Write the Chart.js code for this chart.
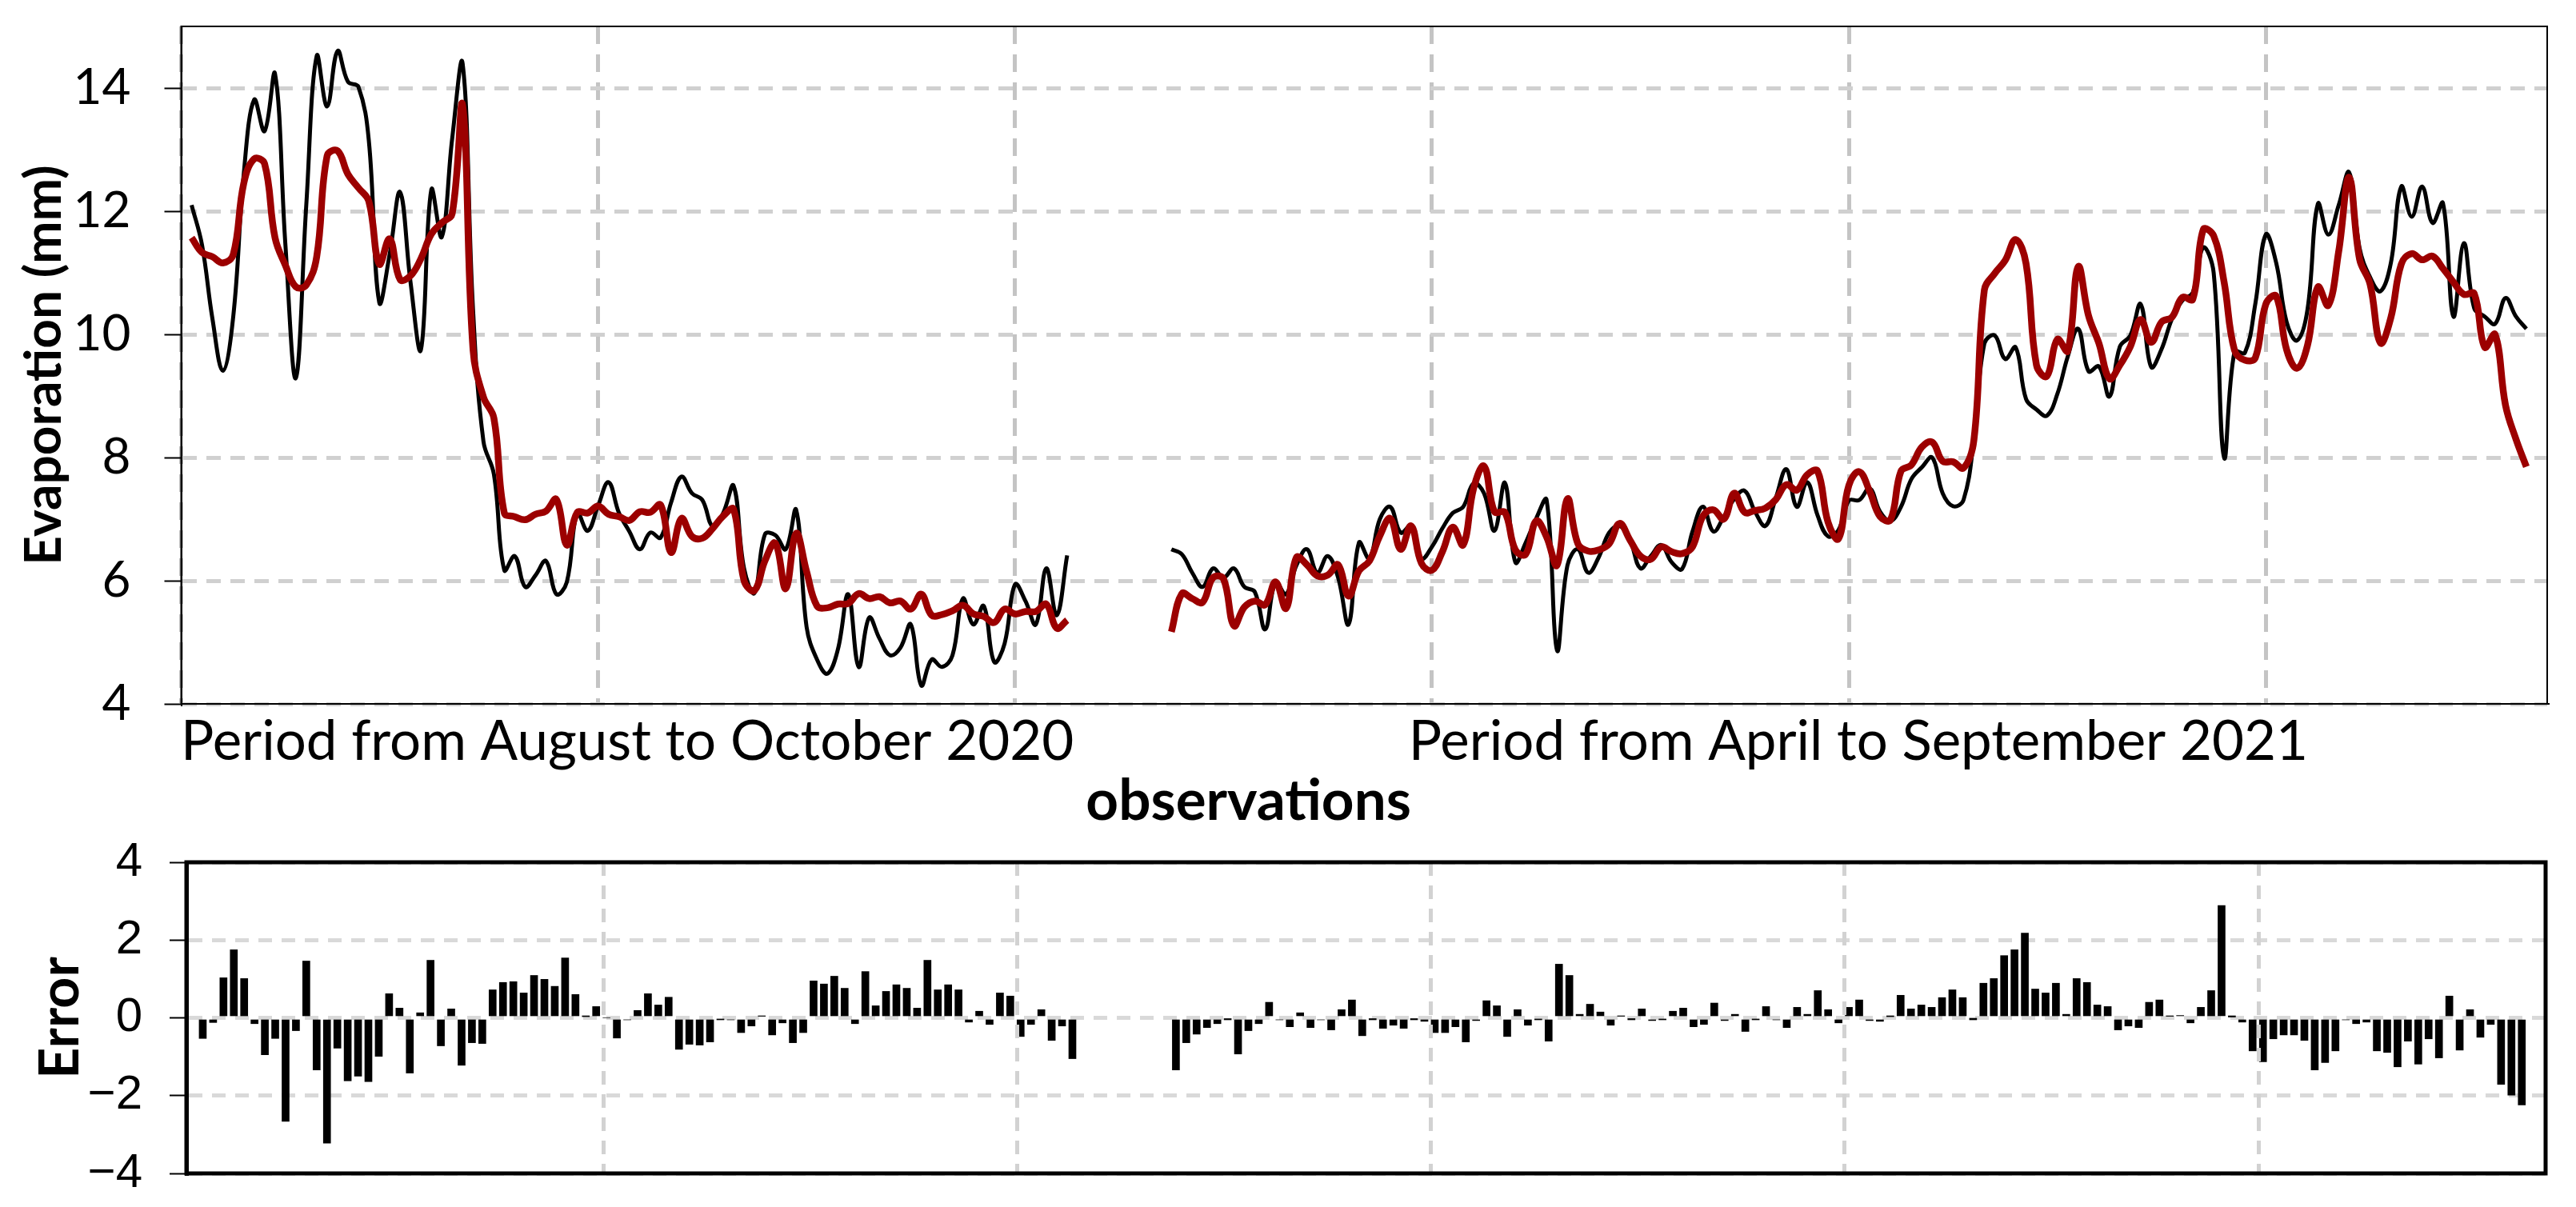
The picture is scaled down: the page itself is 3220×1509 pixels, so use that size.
<!DOCTYPE html>
<html>
<head>
<meta charset="utf-8">
<script src="https://cdn.jsdelivr.net/npm/chart.js@4.4.1/dist/chart.umd.min.js"></script>
<style>
  html, body { margin: 0; padding: 0; background: #fff; }
  #topBox { position: absolute; left: 0; top: 0; width: 3220px; height: 1041px; }
  #bottomBox { position: absolute; left: 0; top: 1041px; width: 3220px; height: 468px; }
</style>
</head>
<body>
<div id="topBox"><canvas id="evapChart"></canvas></div>
<div id="bottomBox"><canvas id="errorChart"></canvas></div>
<script>
// observations 1..225, gap 86-94 between the two periods
const observed = [
  12.10, 11.45, 10.25, 9.41, 10.30, 12.60, 13.81, 13.30, 14.23, 11.45,
  9.29, 12.10, 14.52, 13.70, 14.60, 14.10, 14.02, 13.15, 10.52, 11.30,
  12.31, 10.85, 9.75, 12.35, 11.58, 13.18, 14.40, 10.40, 8.26, 7.73,
  6.17, 6.40, 5.90, 6.09, 6.32, 5.78, 5.98, 7.10, 6.81, 7.22,
  7.60, 7.10, 6.80, 6.51, 6.78, 6.70, 7.27, 7.69, 7.42, 7.31,
  6.88, 7.10, 7.54, 6.20, 5.80, 6.75, 6.74, 6.51, 7.15, 5.25,
  4.72, 4.49, 4.88, 5.78, 4.60, 5.40, 5.06, 4.79, 4.91, 5.29,
  4.30, 4.72, 4.60, 4.79, 5.71, 5.29, 5.59, 4.68, 4.98, 5.94,
  5.67, 5.29, 6.20, 5.44, 6.41,
  null, null, null, null, null, null, null, null, null,
  6.51, 6.43, 6.13, 5.90, 6.20, 6.05,
  6.20, 5.90, 5.82, 5.21, 5.98, 5.78, 6.25, 6.51, 6.13, 6.40,
  6.05, 5.29, 6.62, 6.36, 7.00, 7.20, 6.78, 6.89, 6.36, 6.55,
  6.85, 7.10, 7.20, 7.58, 7.42, 6.81, 7.59, 6.30, 6.62, 7.01,
  7.31, 4.87, 6.25, 6.51, 6.13, 6.38, 6.78, 6.89, 6.66, 6.20,
  6.40, 6.58, 6.30, 6.19, 6.80, 7.20, 6.80, 7.04, 7.33, 7.46,
  7.12, 6.89, 7.35, 7.81, 7.20, 7.60, 7.06, 6.72, 6.82, 7.30,
  7.31, 7.50, 7.12, 6.97, 7.20, 7.65, 7.84, 8.00, 7.42, 7.21,
  7.31, 8.30, 9.85, 9.98, 9.60, 9.79, 8.95, 8.78, 8.68, 9.03,
  9.64, 10.09, 9.40, 9.48, 8.99, 9.80, 9.98, 10.49, 9.47, 9.76,
  10.25, 10.55, 10.68, 11.41, 11.00, 8.00, 9.72, 9.70, 10.50, 11.62,
  11.16, 10.20, 9.90, 10.40, 12.12, 11.62, 12.10, 12.63, 11.40, 10.93,
  10.70, 11.16, 12.40, 11.91, 12.40, 11.81, 12.13, 10.29, 11.48, 10.42,
  10.29, 10.17, 10.59, 10.29, 10.09
];

const predicted = [
  11.57, 11.33, 11.26, 11.16, 11.30, 12.45, 12.85, 12.77, 11.57, 11.12,
  10.77, 10.80, 11.26, 12.90, 12.98, 12.60, 12.38, 12.16, 11.14, 11.55,
  10.89, 10.95, 11.23, 11.63, 11.81, 11.96, 13.72, 9.75, 8.98, 8.64,
  7.10, 7.04, 6.99, 7.08, 7.13, 7.32, 6.58, 7.11, 7.10, 7.21,
  7.08, 7.04, 6.98, 7.12, 7.11, 7.23, 6.46, 7.01, 6.72, 6.69,
  6.85, 7.05, 7.16, 6.00, 5.84, 6.32, 6.61, 5.87, 6.77, 6.15,
  5.59, 5.56, 5.62, 5.63, 5.79, 5.71, 5.74, 5.64, 5.67, 5.54,
  5.78, 5.44, 5.45, 5.51, 5.60, 5.46, 5.42, 5.32, 5.54, 5.46,
  5.50, 5.50, 5.62, 5.23, 5.36,
  null, null, null, null, null, null, null, null, null,
  5.17, 5.79, 5.71, 5.65, 6.05, 6.03,
  5.27, 5.57, 5.67, 5.61, 5.98, 5.55, 6.38, 6.26, 6.08, 6.09,
  6.26, 5.75, 6.16, 6.32, 6.73, 7.01, 6.51, 6.89, 6.28, 6.17,
  6.47, 6.87, 6.58, 7.50, 7.86, 7.12, 7.11, 6.50, 6.43, 6.97,
  6.71, 6.25, 7.33, 6.60, 6.48, 6.50, 6.60, 6.93, 6.66, 6.40,
  6.35, 6.55, 6.47, 6.44, 6.55, 7.05, 7.15, 7.00, 7.42, 7.11,
  7.14, 7.18, 7.32, 7.56, 7.47, 7.72, 7.78, 6.95, 6.68, 7.55,
  7.77, 7.45, 7.04, 6.99, 7.78, 7.88, 8.17, 8.25, 7.94, 7.93,
  7.83, 8.29, 10.72, 10.99, 11.20, 11.54, 11.15, 9.50, 9.32, 9.92,
  9.73, 11.10, 10.30, 9.85, 9.28, 9.50, 9.80, 10.24, 9.87, 10.20,
  10.28, 10.60, 10.57, 11.70, 11.60, 10.85, 9.74, 9.58, 9.62, 10.49,
  10.62, 9.75, 9.45, 9.82, 10.77, 10.47, 11.35, 12.55, 11.22, 10.82,
  9.86, 10.27, 11.14, 11.31, 11.21, 11.27, 11.07, 10.85, 10.65, 10.66,
  9.79, 10.00, 8.85, 8.30, 7.85
];

const errors = [
  -0.53, -0.12, 1.03, 1.75, 1.01, -0.15, -0.95, -0.53, -2.66, -0.33,
  1.46, -1.34, -3.22, -0.78, -1.62, -1.50, -1.64, -0.99, 0.62, 0.25,
  -1.42, 0.13, 1.48, -0.72, 0.23, -1.22, -0.64, -0.66, 0.72, 0.91,
  0.93, 0.64, 1.09, 0.99, 0.81, 1.54, 0.60, 0.03, 0.29, 0,
  -0.52, -0.05, 0.19, 0.62, 0.33, 0.53, -0.81, -0.68, -0.70, -0.62,
  -0.03, -0.05, -0.38, -0.21, 0.04, -0.44, -0.13, -0.64, -0.38, 0.95,
  0.87, 1.07, 0.76, -0.15, 1.19, 0.31, 0.68, 0.85, 0.76, 0.25,
  1.48, 0.72, 0.85, 0.72, -0.11, 0.17, -0.17, 0.64, 0.56, -0.48,
  -0.17, 0.21, -0.58, -0.21, -1.05,
  null, null, null, null, null, null, null, null, null,
  -1.34, -0.64, -0.42, -0.25, -0.15, -0.02,
  -0.93, -0.33, -0.15, 0.40, -0.05, -0.23, 0.13, -0.25, -0.05, -0.31,
  0.21, 0.46, -0.46, -0.02, -0.27, -0.19, -0.27, -0.02, -0.09, -0.38,
  -0.38, -0.23, -0.62, -0.07, 0.44, 0.31, -0.48, 0.21, -0.19, -0.03,
  -0.60, 1.38, 1.09, 0.09, 0.35, 0.15, -0.19, 0.04, -0.02, 0.23,
  -0.07, -0.03, 0.17, 0.25, -0.23, -0.17, 0.38, -0.07, 0.09, -0.35,
  -0.03, 0.29, -0.05, -0.25, 0.27, 0.09, 0.70, 0.21, -0.13, 0.27,
  0.46, -0.07, -0.09, 0.03, 0.58, 0.23, 0.33, 0.27, 0.52, 0.72,
  0.52, -0.01, 0.89, 1.01, 1.60, 1.75, 2.18, 0.74, 0.64, 0.89,
  0.09, 1.01, 0.91, 0.33, 0.29, -0.31, -0.21, -0.25, 0.40, 0.46,
  0.04, 0.06, -0.13, 0.27, 0.70, 2.89, 0.02, -0.11, -0.85, -1.13,
  -0.54, -0.44, -0.44, -0.58, -1.34, -1.15, -0.85, -0.05, -0.15, -0.11,
  -0.85, -0.89, -1.26, -0.60, -1.19, -0.54, -1.03, 0.56, -0.83, 0.21,
  -0.50, -0.17, -1.71, -1.99, -2.24
];

const periodLabels = ['Period from August to October 2020', 'Period from April to September 2021'];
const periodPos = [42.8, 160.9];
const xTitleText = ['observations'];
const xTitlePos = [102.4];
const evapTicks = [4, 6, 8, 10, 12, 14];
const errTicks = [-4, -2, 0, 2, 4];
const evapGrid = [0, 40, 80, 120, 160, 200];
const errGrid = [39.7, 79.7, 119.6, 159.6, 199.6];

function toPoints(arr) {
    return arr.map(function (v, i) { return { x: i + 1, y: v }; });
}
function setTicks(values) {
    return function (scale) { scale.ticks = values.map(function (v) { return { value: v }; }); };
}
function noPad(scale) {
    scale.paddingTop = 0;
    scale.paddingBottom = 0;
    scale.paddingLeft = 0;
    scale.paddingRight = 0;
}
function fixWidth(w) { return function (scale) { scale.width = w; noPad(scale); }; }
function fixHeight(h) { return function (scale) { scale.height = h; noPad(scale); }; }

// black frame round the plot area
const frameBox = {
    id: 'frameBox',
    afterDraw: function (chart, args, opts) {
        const a = chart.chartArea;
        const ctx = chart.ctx;
        ctx.save();
        ctx.lineWidth = opts.width;
        ctx.strokeStyle = '#000';
        ctx.strokeRect(a.left, a.top, a.right - a.left, a.bottom - a.top);
        ctx.restore();
    }
};

function labelAxis(positions, texts, font, padding, height, weight) {
    return {
        type: 'linear',
        min: 0,
        max: 227,
        position: 'bottom',
        weight: weight,
        afterBuildTicks: setTicks(positions),
        ticks: {
            autoSkip: false,
            maxRotation: 0,
            minRotation: 0,
            padding: padding,
            color: '#000',
            font: font,
            callback: function (value, index) { return texts[index]; }
        },
        grid: { display: false, drawTicks: false },
        border: { display: false },
        afterFit: fixHeight(height)
    };
}

function initEvapCharts() {
    // evaporation, observed vs predicted
    const evapCtx = document.getElementById('evapChart').getContext('2d');
    new Chart(evapCtx, {
        type: 'line',
        plugins: [frameBox],
        data: {
            datasets: [{
                label: 'Observed',
                data: toPoints(observed),
                borderColor: '#000000',
                borderWidth: 5,
                pointRadius: 0,
                tension: 0.4,
                spanGaps: false,
                order: 2
            }, {
                label: 'Predicted',
                data: toPoints(predicted),
                borderColor: '#9c0000',
                borderWidth: 8.5,
                pointRadius: 0,
                tension: 0.4,
                spanGaps: false,
                order: 1
            }]
        },
        options: {
            responsive: true,
            maintainAspectRatio: false,
            animation: false,
            events: [],
            layout: { padding: { left: 0, right: 36, top: 33, bottom: 0 }, autoPadding: false },
            plugins: { legend: { display: false }, tooltip: { enabled: false }, frameBox: { width: 2 } },
            scales: {
                x: {
                    type: 'linear',
                    min: 0,
                    max: 227,
                    position: 'bottom',
                    weight: 0,
                    afterBuildTicks: setTicks(evapGrid),
                    ticks: { display: false },
                    grid: { color: '#c4c4c4', lineWidth: 5, drawTicks: false },
                    border: { display: true, color: '#000', width: 2, dash: [22, 13] },
                    afterFit: fixHeight(0)
                },
                xPeriod: labelAxis(periodPos, periodLabels,
                    { family: 'Lato', size: 69, lineHeight: 1 }, 13, 85, 1),
                xTitle: labelAxis(xTitlePos, xTitleText,
                    { family: 'Lato', size: 71, weight: 'bold', lineHeight: 1 }, 2, 76, 2),
                y: {
                    type: 'linear',
                    min: 4,
                    max: 15,
                    position: 'left',
                    afterBuildTicks: setTicks(evapTicks),
                    ticks: { color: '#000', padding: 42, font: { family: 'Lato', size: 62 } },
                    grid: {
                        color: '#d0d0d0', lineWidth: 5,
                        tickLength: 21, tickColor: '#000', tickWidth: 2, tickBorderDash: []
                    },
                    border: { display: true, color: '#000', width: 2, dash: [18, 12] },
                    title: {
                        display: true,
                        text: 'Evaporation (mm)',
                        color: '#000',
                        font: { family: 'Lato', size: 64, weight: 'bold' },
                        padding: { top: 17, bottom: 0 }
                    },
                    afterFit: fixWidth(226.5)
                }
            }
        }
    });

    // error bars
    const errCtx = document.getElementById('errorChart').getContext('2d');
    new Chart(errCtx, {
        type: 'bar',
        plugins: [frameBox],
        data: {
            datasets: [{
                label: 'Error',
                data: toPoints(errors),
                backgroundColor: '#000000',
                barThickness: 9
            }]
        },
        options: {
            responsive: true,
            maintainAspectRatio: false,
            animation: false,
            events: [],
            layout: { padding: { left: 0, right: 38, top: 37, bottom: 42 }, autoPadding: false },
            plugins: { legend: { display: false }, tooltip: { enabled: false }, frameBox: { width: 5 } },
            scales: {
                x: {
                    type: 'linear',
                    min: -0.58,
                    max: 227.3,
                    offset: false,
                    afterBuildTicks: setTicks(errGrid),
                    ticks: { display: false },
                    grid: { offset: false, color: '#d2d2d2', lineWidth: 5, drawTicks: false, z: 1 },
                    border: { display: false, dash: [17, 12] },
                    afterFit: fixHeight(0)
                },
                y: {
                    type: 'linear',
                    min: -4,
                    max: 4,
                    afterBuildTicks: setTicks(errTicks),
                    ticks: {
                        color: '#000',
                        padding: 34,
                        font: { family: 'Liberation Sans', size: 60 },
                        callback: function (value) { return value < 0 ? '\u2212' + Math.abs(value) : String(value); }
                    },
                    grid: {
                        color: '#d9d9d9', lineWidth: 5,
                        tickLength: 21, tickColor: '#000', tickWidth: 2, tickBorderDash: []
                    },
                    border: { display: true, color: '#000', width: 5, dash: [17, 12] },
                    title: {
                        display: true,
                        text: 'Error',
                        color: '#000',
                        font: { family: 'Lato', size: 68, weight: 'bold' },
                        padding: { top: 35, bottom: 0 }
                    },
                    afterFit: fixWidth(233)
                }
            }
        }
    });
}
window.onload = initEvapCharts;
</script>
</body>
</html>
